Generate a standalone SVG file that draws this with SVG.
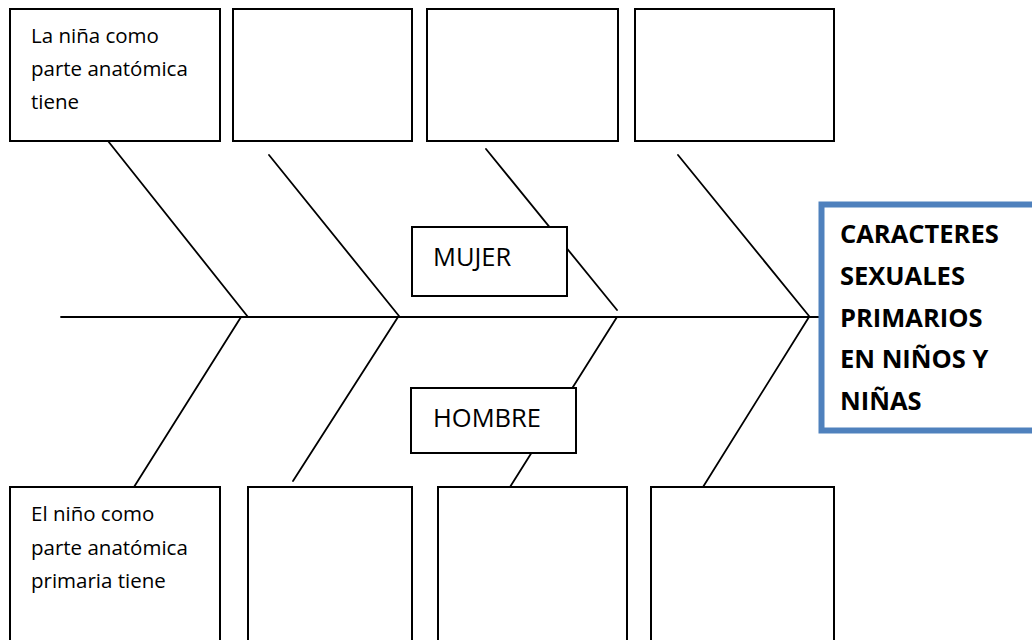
<svg xmlns="http://www.w3.org/2000/svg" width="1032" height="640" viewBox="0 0 1032 640">
<style>
.box{fill:#fff;stroke:#000;stroke-width:2}
.ln{stroke:#000;stroke-width:1.8;fill:none;stroke-linecap:round}
.t{font-family:"Open Sans","Liberation Sans",sans-serif;font-size:20.5px;fill:#000}
.lab{font-family:"Open Sans","Liberation Sans",sans-serif;font-size:25.5px;fill:#000}
.head{font-family:"Open Sans","Liberation Sans",sans-serif;font-size:25.5px;font-weight:bold;fill:#000}
</style>
<rect width="1032" height="640" fill="#fff"/>
<g id="connectors">
<line class="ln" x1="61" y1="317" x2="821" y2="317"/>
<line class="ln" x1="108" y1="141" x2="248" y2="317"/>
<line class="ln" x1="269" y1="155" x2="399" y2="316"/>
<line class="ln" x1="486" y1="149" x2="617" y2="310"/>
<line class="ln" x1="678" y1="155" x2="809" y2="316"/>
<line class="ln" x1="241" y1="317" x2="134" y2="487"/>
<line class="ln" x1="398" y1="317" x2="293" y2="481"/>
<line class="ln" x1="617" y1="317" x2="510" y2="487"/>
<line class="ln" x1="809" y1="317" x2="703" y2="487"/>
</g>
<g id="top1"><rect class="box" x="10" y="9" width="210" height="132"/>
<text class="t" x="31" y="43">La niña como</text>
<text class="t" x="31" y="76">parte anatómica</text>
<text class="t" x="31" y="109">tiene</text></g>
<g id="top2"><rect class="box" x="233" y="9" width="179" height="132"/></g>
<g id="top3"><rect class="box" x="427" y="9" width="191" height="132"/></g>
<g id="top4"><rect class="box" x="635" y="9" width="199" height="132"/></g>
<g id="mujer"><rect class="box" x="412" y="227" width="155" height="69"/>
<text class="lab" x="433" y="266">MUJER</text></g>
<g id="hombre"><rect class="box" x="411" y="388" width="165" height="65"/>
<text class="lab" x="433" y="426.5">HOMBRE</text></g>
<g id="bot1"><rect class="box" x="10" y="487" width="210" height="180"/>
<text class="t" x="31" y="521">El niño como</text>
<text class="t" x="31" y="555">parte anatómica</text>
<text class="t" x="31" y="588">primaria tiene</text></g>
<g id="bot2"><rect class="box" x="248" y="487" width="164" height="180"/></g>
<g id="bot3"><rect class="box" x="438" y="487" width="189" height="180"/></g>
<g id="bot4"><rect class="box" x="651" y="487" width="183" height="180"/></g>
<g id="head"><rect x="821.5" y="204.5" width="220" height="226" fill="#fff" stroke="#4F81BD" stroke-width="6"/>
<text class="head" x="840" y="243">CARACTERES</text>
<text class="head" x="840" y="285">SEXUALES</text>
<text class="head" x="840" y="327">PRIMARIOS</text>
<text class="head" x="840" y="368">EN NIÑOS Y</text>
<text class="head" x="840" y="410">NIÑAS</text></g>
</svg>
